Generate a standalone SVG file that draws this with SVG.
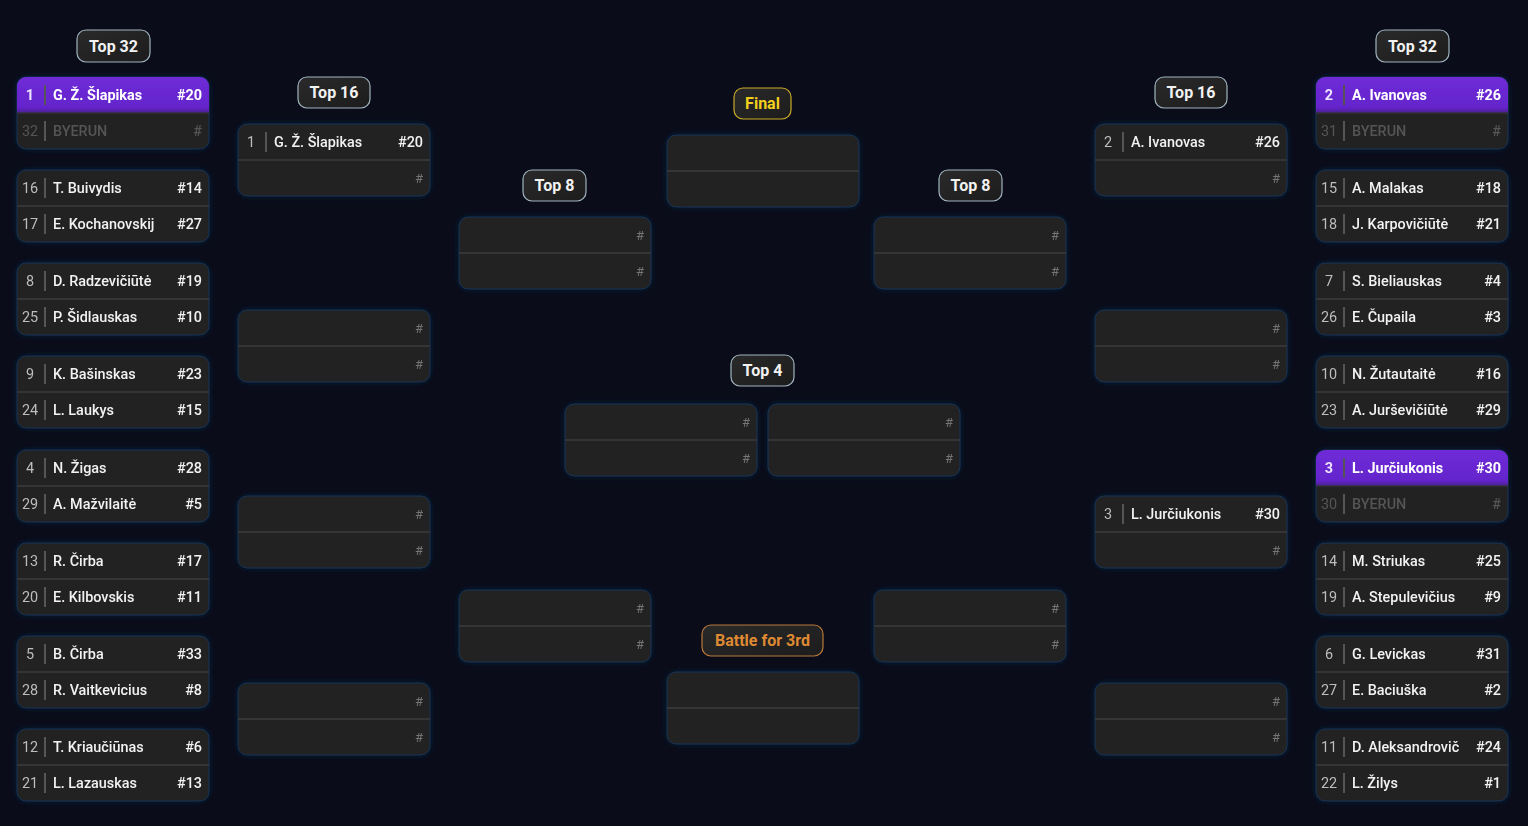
<svg xmlns="http://www.w3.org/2000/svg" width="1528" height="826" viewBox="0 0 1528 826">
<defs>
<style>
text{font-family:Roboto,"Noto Sans","Liberation Sans",sans-serif;}
.bg{fill:#0a0d19;}
.box{fill:#232323;stroke:#173456;stroke-width:1;}
.div{stroke:#353535;stroke-width:2;}
.sep{stroke:#555555;stroke-width:2;}
.sd{font-size:14.4px;fill:#bdbdbd;text-anchor:middle;}
.nm{font-size:14.4px;fill:#f2f2f2;font-weight:500;}
.sc{font-size:14.4px;fill:#f2f2f2;font-weight:500;text-anchor:end;}
.hs{font-size:13px;fill:#747474;text-anchor:end;}
.dim{fill:#555555;}
.hl{fill:url(#purp);}
.hlt{fill:#ffffff;font-weight:700;}
.hsd{fill:#ece4ff;font-weight:700;}
.pill{fill:url(#pillg);stroke:#9fb3bf;stroke-width:1.2;}
.pt{font-size:16px;font-weight:700;fill:#f2f2f2;text-anchor:middle;}
.pfin{fill:url(#pillg);stroke:#c9a928;stroke-width:1.2;}
.tfin{font-size:16px;font-weight:700;fill:#f2cf1f;text-anchor:middle;}
.pbr{fill:url(#pillg);stroke:#b9793a;stroke-width:1.2;}
.tbr{font-size:16px;font-weight:700;fill:#de8a33;text-anchor:middle;}
</style>
<linearGradient id="purp" x1="0" y1="0" x2="0" y2="1">
<stop offset="0" stop-color="#6f2bd8"/>
<stop offset="0.85" stop-color="#6424cc"/>
<stop offset="1" stop-color="#4a1f8e"/>
</linearGradient>
<linearGradient id="pillg" x1="0" y1="0" x2="1" y2="1">
<stop offset="0" stop-color="#2a2a2a"/>
<stop offset="1" stop-color="#1c1c1c"/>
</linearGradient>
<filter id="glow" x="-10%" y="-20%" width="120%" height="140%">
<feDropShadow dx="0" dy="0" stdDeviation="3" flood-color="#0e1c3a" flood-opacity="0.9"/>
</filter>
</defs>
<rect class="bg" x="0" y="0" width="1528" height="826"/>
<g id="connectors"></g>

<g id="labels">
<g id="lbl-l32"><rect class="pill" x="77" y="30" width="73" height="32" rx="9"/><text class="pt" x="113.5" y="51.5">Top 32</text></g>
<g id="lbl-l16"><rect class="pill" x="298" y="77" width="72" height="31" rx="9"/><text class="pt" x="334" y="98">Top 16</text></g>
<g id="lbl-l8"><rect class="pill" x="523" y="170" width="63" height="31" rx="9"/><text class="pt" x="554.5" y="191">Top 8</text></g>
<g id="lbl-final"><rect class="pfin" x="734" y="88" width="57" height="31" rx="9"/><text class="tfin" x="762.5" y="109">Final</text></g>
<g id="lbl-top4"><rect class="pill" x="731" y="355" width="63" height="31" rx="9"/><text class="pt" x="762.5" y="376">Top 4</text></g>
<g id="lbl-3rd"><rect class="pbr" x="702" y="625" width="121" height="31" rx="9"/><text class="tbr" x="762.5" y="646">Battle for 3rd</text></g>
<g id="lbl-r8"><rect class="pill" x="939" y="170" width="63" height="31" rx="9"/><text class="pt" x="970.5" y="191">Top 8</text></g>
<g id="lbl-r16"><rect class="pill" x="1155" y="77" width="72" height="31" rx="9"/><text class="pt" x="1191" y="98">Top 16</text></g>
<g id="lbl-r32"><rect class="pill" x="1376" y="30" width="73" height="32" rx="9"/><text class="pt" x="1412.5" y="51.5">Top 32</text></g>
</g>

<!-- Left Top 32 -->
<g id="L32-1" transform="translate(17,77)" filter="url(#glow)">
<rect class="box" width="192" height="72" rx="9"/>
<path class="hl" d="M0,9 a9,9 0 0 1 9,-9 h174 a9,9 0 0 1 9,9 v27 h-192z"/>
<line class="div" x1="0" y1="36" x2="192" y2="36" stroke-opacity="0.6"/>
<text class="sd hsd" x="13" y="23">1</text><line class="sep" x1="28" y1="8" x2="28" y2="28" stroke="#8a5fd0"/><text class="nm hlt" x="36" y="23">G. Ž. Šlapikas</text><text class="sc hlt" x="185" y="23">#20</text>
<text class="sd dim" x="13" y="59">32</text><line class="sep" x1="28" y1="44" x2="28" y2="64" stroke="#333"/><text class="nm dim" x="36" y="59">BYERUN</text><text class="sc dim" x="185" y="59">#</text>
</g>
<g id="L32-2" transform="translate(17,170)" filter="url(#glow)">
<rect class="box" width="192" height="72" rx="9"/><line class="div" x1="0" y1="36" x2="192" y2="36"/>
<text class="sd" x="13" y="23">16</text><line class="sep" x1="28" y1="8" x2="28" y2="28"/><text class="nm" x="36" y="23">T. Buivydis</text><text class="sc" x="185" y="23">#14</text>
<text class="sd" x="13" y="59">17</text><line class="sep" x1="28" y1="44" x2="28" y2="64"/><text class="nm" x="36" y="59">E. Kochanovskij</text><text class="sc" x="185" y="59">#27</text>
</g>
<g id="L32-3" transform="translate(17,263)" filter="url(#glow)">
<rect class="box" width="192" height="72" rx="9"/><line class="div" x1="0" y1="36" x2="192" y2="36"/>
<text class="sd" x="13" y="23">8</text><line class="sep" x1="28" y1="8" x2="28" y2="28"/><text class="nm" x="36" y="23">D. Radzevičiūtė</text><text class="sc" x="185" y="23">#19</text>
<text class="sd" x="13" y="59">25</text><line class="sep" x1="28" y1="44" x2="28" y2="64"/><text class="nm" x="36" y="59">P. Šidlauskas</text><text class="sc" x="185" y="59">#10</text>
</g>
<g id="L32-4" transform="translate(17,356)" filter="url(#glow)">
<rect class="box" width="192" height="72" rx="9"/><line class="div" x1="0" y1="36" x2="192" y2="36"/>
<text class="sd" x="13" y="23">9</text><line class="sep" x1="28" y1="8" x2="28" y2="28"/><text class="nm" x="36" y="23">K. Bašinskas</text><text class="sc" x="185" y="23">#23</text>
<text class="sd" x="13" y="59">24</text><line class="sep" x1="28" y1="44" x2="28" y2="64"/><text class="nm" x="36" y="59">L. Laukys</text><text class="sc" x="185" y="59">#15</text>
</g>
<g id="L32-5" transform="translate(17,450)" filter="url(#glow)">
<rect class="box" width="192" height="72" rx="9"/><line class="div" x1="0" y1="36" x2="192" y2="36"/>
<text class="sd" x="13" y="23">4</text><line class="sep" x1="28" y1="8" x2="28" y2="28"/><text class="nm" x="36" y="23">N. Žigas</text><text class="sc" x="185" y="23">#28</text>
<text class="sd" x="13" y="59">29</text><line class="sep" x1="28" y1="44" x2="28" y2="64"/><text class="nm" x="36" y="59">A. Mažvilaitė</text><text class="sc" x="185" y="59">#5</text>
</g>
<g id="L32-6" transform="translate(17,543)" filter="url(#glow)">
<rect class="box" width="192" height="72" rx="9"/><line class="div" x1="0" y1="36" x2="192" y2="36"/>
<text class="sd" x="13" y="23">13</text><line class="sep" x1="28" y1="8" x2="28" y2="28"/><text class="nm" x="36" y="23">R. Čirba</text><text class="sc" x="185" y="23">#17</text>
<text class="sd" x="13" y="59">20</text><line class="sep" x1="28" y1="44" x2="28" y2="64"/><text class="nm" x="36" y="59">E. Kilbovskis</text><text class="sc" x="185" y="59">#11</text>
</g>
<g id="L32-7" transform="translate(17,636)" filter="url(#glow)">
<rect class="box" width="192" height="72" rx="9"/><line class="div" x1="0" y1="36" x2="192" y2="36"/>
<text class="sd" x="13" y="23">5</text><line class="sep" x1="28" y1="8" x2="28" y2="28"/><text class="nm" x="36" y="23">B. Čirba</text><text class="sc" x="185" y="23">#33</text>
<text class="sd" x="13" y="59">28</text><line class="sep" x1="28" y1="44" x2="28" y2="64"/><text class="nm" x="36" y="59">R. Vaitkevicius</text><text class="sc" x="185" y="59">#8</text>
</g>
<g id="L32-8" transform="translate(17,729)" filter="url(#glow)">
<rect class="box" width="192" height="72" rx="9"/><line class="div" x1="0" y1="36" x2="192" y2="36"/>
<text class="sd" x="13" y="23">12</text><line class="sep" x1="28" y1="8" x2="28" y2="28"/><text class="nm" x="36" y="23">T. Kriaučiūnas</text><text class="sc" x="185" y="23">#6</text>
<text class="sd" x="13" y="59">21</text><line class="sep" x1="28" y1="44" x2="28" y2="64"/><text class="nm" x="36" y="59">L. Lazauskas</text><text class="sc" x="185" y="59">#13</text>
</g>

<!-- Left Top 16 -->
<g id="L16-1" transform="translate(238,124)" filter="url(#glow)">
<rect class="box" width="192" height="72" rx="9"/><line class="div" x1="0" y1="36" x2="192" y2="36"/>
<text class="sd" x="13" y="23">1</text><line class="sep" x1="28" y1="8" x2="28" y2="28"/><text class="nm" x="36" y="23">G. Ž. Šlapikas</text><text class="sc" x="185" y="23">#20</text>
<text class="hs" x="185" y="59">#</text>
</g>
<g id="L16-2" transform="translate(238,310)" filter="url(#glow)">
<rect class="box" width="192" height="72" rx="9"/><line class="div" x1="0" y1="36" x2="192" y2="36"/>
<text class="hs" x="185" y="23">#</text><text class="hs" x="185" y="59">#</text>
</g>
<g id="L16-3" transform="translate(238,496)" filter="url(#glow)">
<rect class="box" width="192" height="72" rx="9"/><line class="div" x1="0" y1="36" x2="192" y2="36"/>
<text class="hs" x="185" y="23">#</text><text class="hs" x="185" y="59">#</text>
</g>
<g id="L16-4" transform="translate(238,683)" filter="url(#glow)">
<rect class="box" width="192" height="72" rx="9"/><line class="div" x1="0" y1="36" x2="192" y2="36"/>
<text class="hs" x="185" y="23">#</text><text class="hs" x="185" y="59">#</text>
</g>

<!-- Left Top 8 -->
<g id="L8-1" transform="translate(459,217)" filter="url(#glow)">
<rect class="box" width="192" height="72" rx="9"/><line class="div" x1="0" y1="36" x2="192" y2="36"/>
<text class="hs" x="185" y="23">#</text><text class="hs" x="185" y="59">#</text>
</g>
<g id="L8-2" transform="translate(459,590)" filter="url(#glow)">
<rect class="box" width="192" height="72" rx="9"/><line class="div" x1="0" y1="36" x2="192" y2="36"/>
<text class="hs" x="185" y="23">#</text><text class="hs" x="185" y="59">#</text>
</g>

<!-- Top 4 -->
<g id="T4-1" transform="translate(565,404)" filter="url(#glow)">
<rect class="box" width="192" height="72" rx="9"/><line class="div" x1="0" y1="36" x2="192" y2="36"/>
<text class="hs" x="185" y="23">#</text><text class="hs" x="185" y="59">#</text>
</g>
<g id="T4-2" transform="translate(768,404)" filter="url(#glow)">
<rect class="box" width="192" height="72" rx="9"/><line class="div" x1="0" y1="36" x2="192" y2="36"/>
<text class="hs" x="185" y="23">#</text><text class="hs" x="185" y="59">#</text>
</g>

<!-- Final -->
<g id="final" transform="translate(667,135)" filter="url(#glow)">
<rect class="box" width="192" height="72" rx="9"/><line class="div" x1="0" y1="36" x2="192" y2="36"/>
</g>
<!-- Battle for 3rd -->
<g id="third" transform="translate(667,672)" filter="url(#glow)">
<rect class="box" width="192" height="72" rx="9"/><line class="div" x1="0" y1="36" x2="192" y2="36"/>
</g>

<!-- Right Top 8 -->
<g id="R8-1" transform="translate(874,217)" filter="url(#glow)">
<rect class="box" width="192" height="72" rx="9"/><line class="div" x1="0" y1="36" x2="192" y2="36"/>
<text class="hs" x="185" y="23">#</text><text class="hs" x="185" y="59">#</text>
</g>
<g id="R8-2" transform="translate(874,590)" filter="url(#glow)">
<rect class="box" width="192" height="72" rx="9"/><line class="div" x1="0" y1="36" x2="192" y2="36"/>
<text class="hs" x="185" y="23">#</text><text class="hs" x="185" y="59">#</text>
</g>

<!-- Right Top 16 -->
<g id="R16-1" transform="translate(1095,124)" filter="url(#glow)">
<rect class="box" width="192" height="72" rx="9"/><line class="div" x1="0" y1="36" x2="192" y2="36"/>
<text class="sd" x="13" y="23">2</text><line class="sep" x1="28" y1="8" x2="28" y2="28"/><text class="nm" x="36" y="23">A. Ivanovas</text><text class="sc" x="185" y="23">#26</text>
<text class="hs" x="185" y="59">#</text>
</g>
<g id="R16-2" transform="translate(1095,310)" filter="url(#glow)">
<rect class="box" width="192" height="72" rx="9"/><line class="div" x1="0" y1="36" x2="192" y2="36"/>
<text class="hs" x="185" y="23">#</text><text class="hs" x="185" y="59">#</text>
</g>
<g id="R16-3" transform="translate(1095,496)" filter="url(#glow)">
<rect class="box" width="192" height="72" rx="9"/><line class="div" x1="0" y1="36" x2="192" y2="36"/>
<text class="sd" x="13" y="23">3</text><line class="sep" x1="28" y1="8" x2="28" y2="28"/><text class="nm" x="36" y="23">L. Jurčiukonis</text><text class="sc" x="185" y="23">#30</text>
<text class="hs" x="185" y="59">#</text>
</g>
<g id="R16-4" transform="translate(1095,683)" filter="url(#glow)">
<rect class="box" width="192" height="72" rx="9"/><line class="div" x1="0" y1="36" x2="192" y2="36"/>
<text class="hs" x="185" y="23">#</text><text class="hs" x="185" y="59">#</text>
</g>

<!-- Right Top 32 -->
<g id="R32-1" transform="translate(1316,77)" filter="url(#glow)">
<rect class="box" width="192" height="72" rx="9"/>
<path class="hl" d="M0,9 a9,9 0 0 1 9,-9 h174 a9,9 0 0 1 9,9 v27 h-192z"/>
<line class="div" x1="0" y1="36" x2="192" y2="36" stroke-opacity="0.6"/>
<text class="sd hsd" x="13" y="23">2</text><line class="sep" x1="28" y1="8" x2="28" y2="28" stroke="#8a5fd0"/><text class="nm hlt" x="36" y="23">A. Ivanovas</text><text class="sc hlt" x="185" y="23">#26</text>
<text class="sd dim" x="13" y="59">31</text><line class="sep" x1="28" y1="44" x2="28" y2="64" stroke="#333"/><text class="nm dim" x="36" y="59">BYERUN</text><text class="sc dim" x="185" y="59">#</text>
</g>
<g id="R32-2" transform="translate(1316,170)" filter="url(#glow)">
<rect class="box" width="192" height="72" rx="9"/><line class="div" x1="0" y1="36" x2="192" y2="36"/>
<text class="sd" x="13" y="23">15</text><line class="sep" x1="28" y1="8" x2="28" y2="28"/><text class="nm" x="36" y="23">A. Malakas</text><text class="sc" x="185" y="23">#18</text>
<text class="sd" x="13" y="59">18</text><line class="sep" x1="28" y1="44" x2="28" y2="64"/><text class="nm" x="36" y="59">J. Karpovičiūtė</text><text class="sc" x="185" y="59">#21</text>
</g>
<g id="R32-3" transform="translate(1316,263)" filter="url(#glow)">
<rect class="box" width="192" height="72" rx="9"/><line class="div" x1="0" y1="36" x2="192" y2="36"/>
<text class="sd" x="13" y="23">7</text><line class="sep" x1="28" y1="8" x2="28" y2="28"/><text class="nm" x="36" y="23">S. Bieliauskas</text><text class="sc" x="185" y="23">#4</text>
<text class="sd" x="13" y="59">26</text><line class="sep" x1="28" y1="44" x2="28" y2="64"/><text class="nm" x="36" y="59">E. Čupaila</text><text class="sc" x="185" y="59">#3</text>
</g>
<g id="R32-4" transform="translate(1316,356)" filter="url(#glow)">
<rect class="box" width="192" height="72" rx="9"/><line class="div" x1="0" y1="36" x2="192" y2="36"/>
<text class="sd" x="13" y="23">10</text><line class="sep" x1="28" y1="8" x2="28" y2="28"/><text class="nm" x="36" y="23">N. Žutautaitė</text><text class="sc" x="185" y="23">#16</text>
<text class="sd" x="13" y="59">23</text><line class="sep" x1="28" y1="44" x2="28" y2="64"/><text class="nm" x="36" y="59">A. Jurševičiūtė</text><text class="sc" x="185" y="59">#29</text>
</g>
<g id="R32-5" transform="translate(1316,450)" filter="url(#glow)">
<rect class="box" width="192" height="72" rx="9"/>
<path class="hl" d="M0,9 a9,9 0 0 1 9,-9 h174 a9,9 0 0 1 9,9 v27 h-192z"/>
<line class="div" x1="0" y1="36" x2="192" y2="36" stroke-opacity="0.6"/>
<text class="sd hsd" x="13" y="23">3</text><line class="sep" x1="28" y1="8" x2="28" y2="28" stroke="#8a5fd0"/><text class="nm hlt" x="36" y="23">L. Jurčiukonis</text><text class="sc hlt" x="185" y="23">#30</text>
<text class="sd dim" x="13" y="59">30</text><line class="sep" x1="28" y1="44" x2="28" y2="64" stroke="#333"/><text class="nm dim" x="36" y="59">BYERUN</text><text class="sc dim" x="185" y="59">#</text>
</g>
<g id="R32-6" transform="translate(1316,543)" filter="url(#glow)">
<rect class="box" width="192" height="72" rx="9"/><line class="div" x1="0" y1="36" x2="192" y2="36"/>
<text class="sd" x="13" y="23">14</text><line class="sep" x1="28" y1="8" x2="28" y2="28"/><text class="nm" x="36" y="23">M. Striukas</text><text class="sc" x="185" y="23">#25</text>
<text class="sd" x="13" y="59">19</text><line class="sep" x1="28" y1="44" x2="28" y2="64"/><text class="nm" x="36" y="59">A. Stepulevičius</text><text class="sc" x="185" y="59">#9</text>
</g>
<g id="R32-7" transform="translate(1316,636)" filter="url(#glow)">
<rect class="box" width="192" height="72" rx="9"/><line class="div" x1="0" y1="36" x2="192" y2="36"/>
<text class="sd" x="13" y="23">6</text><line class="sep" x1="28" y1="8" x2="28" y2="28"/><text class="nm" x="36" y="23">G. Levickas</text><text class="sc" x="185" y="23">#31</text>
<text class="sd" x="13" y="59">27</text><line class="sep" x1="28" y1="44" x2="28" y2="64"/><text class="nm" x="36" y="59">E. Baciuška</text><text class="sc" x="185" y="59">#2</text>
</g>
<g id="R32-8" transform="translate(1316,729)" filter="url(#glow)">
<rect class="box" width="192" height="72" rx="9"/><line class="div" x1="0" y1="36" x2="192" y2="36"/>
<text class="sd" x="13" y="23">11</text><line class="sep" x1="28" y1="8" x2="28" y2="28"/><text class="nm" x="36" y="23">D. Aleksandrovič</text><text class="sc" x="185" y="23">#24</text>
<text class="sd" x="13" y="59">22</text><line class="sep" x1="28" y1="44" x2="28" y2="64"/><text class="nm" x="36" y="59">L. Žilys</text><text class="sc" x="185" y="59">#1</text>
</g>
</svg>
